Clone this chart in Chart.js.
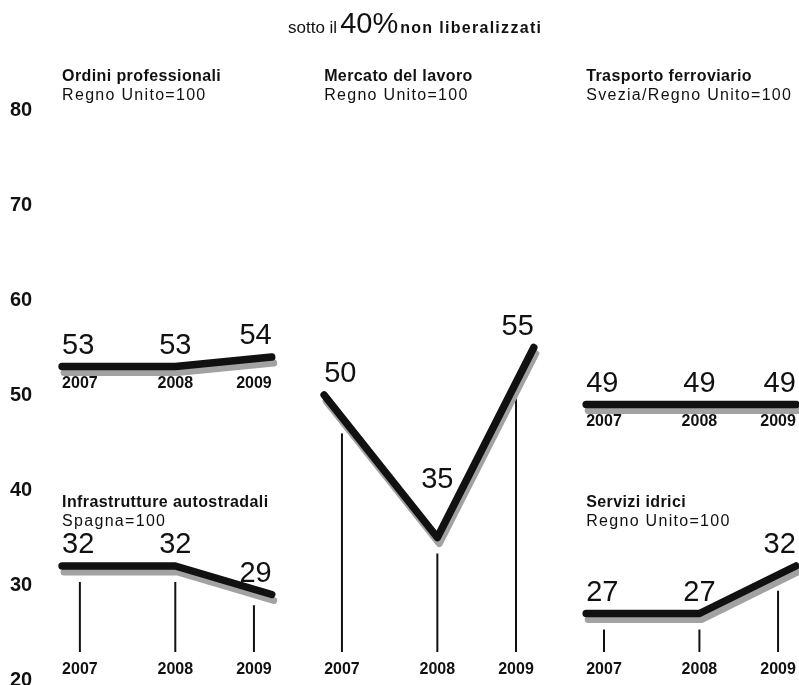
<!DOCTYPE html>
<html lang="it">
<head>
<meta charset="utf-8">
<title>sotto il 40% non liberalizzati</title>
<script src="https://cdn.jsdelivr.net/npm/chart.js@4.4.1/dist/chart.umd.min.js"></script>
<style>
  html, body { margin: 0; padding: 0; background: #fff; }
  #wrap { position: relative; width: 799px; height: 685px; }
</style>
</head>
<body>
<div id="wrap"><canvas id="chart"></canvas></div>
<script>
// Indici di liberalizzazione per settore, 2007-2009
const years = ['2007', '2008', '2009'];
const ordiniProfessionali = [53, 53, 54];
const mercatoLavoro = [50, 35, 55];
const trasportoFerroviario = [49, 49, 49];
const infrastruttureAutostradali = [32, 32, 29];
const serviziIdrici = [27, 27, 32];
const yTicks = [20, 30, 40, 50, 60, 70, 80];

const panels = [
  { title: 'Ordini professionali', base: 'Regno Unito=100', values: ordiniProfessionali, col: 0, row: 'top', drops: false },
  { title: 'Mercato del lavoro', base: 'Regno Unito=100', values: mercatoLavoro, col: 1, row: 'top', drops: true },
  { title: 'Trasporto ferroviario', base: 'Svezia/Regno Unito=100', values: trasportoFerroviario, col: 2, row: 'top', drops: false },
  { title: 'Infrastrutture autostradali', base: 'Spagna=100', values: infrastruttureAutostradali, col: 0, row: 'bottom', drops: true },
  { title: 'Servizi idrici', base: 'Regno Unito=100', values: serviziIdrici, col: 2, row: 'bottom', drops: true }
];

// posizione orizzontale degli anni dentro un riquadro e passo tra le colonne
const YEAR_POS = [0, 1.08, 2];
const COL_STEP = 2.5;
const INK = '#111';
const SHADE = '#a2a2a2';
const FONT = '"Liberation Sans", Arial, sans-serif';

const datasets = [];
panels.forEach((p, k) => {
  const pts = p.values.map((v, i) => ({ x: p.col * COL_STEP + YEAR_POS[i], y: v }));
  const common = { data: pts, panel: k, pointRadius: 0, tension: 0, clip: false,
                   borderCapStyle: 'round', borderJoinStyle: 'round' };
  datasets.push(Object.assign({}, common, { borderColor: INK, borderWidth: 7.5, order: 0 }));
  datasets.push(Object.assign({}, common, { borderColor: SHADE, borderWidth: 7, order: 1, shadow: true }));
});

function text(ctx, str, x, y, font, align, spacing) {
  ctx.font = font;
  ctx.textAlign = align;
  ctx.letterSpacing = (spacing || 0) + 'px';
  ctx.fillText(str, x, y);
}

function linePoints(chart, k) {
  return chart.getDatasetMeta(k * 2).data;
}

// quota della linea spezzata in corrispondenza di x
function lineYAt(pts, x) {
  for (let i = 1; i < pts.length; i++) {
    if (x <= pts[i].x) {
      const a = pts[i - 1], b = pts[i];
      return a.y + (b.y - a.y) * (x - a.x) / (b.x - a.x);
    }
  }
  return pts[pts.length - 1].y;
}

const YEAR_FONT = 'bold 16px ' + FONT;

// ancoraggio delle etichette degli anni: primo a sinistra, ultimo a destra
function yearAnchors(ctx, pts) {
  ctx.font = YEAR_FONT;
  ctx.letterSpacing = '0px';
  const last = pts.length - 1;
  return pts.map((pt, i) => {
    const w = ctx.measureText(years[i]).width;
    if (i === 0) return { x: pt.x, align: 'left', mid: pt.x + w / 2 };
    if (i === last) return { x: pt.x, align: 'right', mid: pt.x - w / 2 };
    return { x: pt.x, align: 'center', mid: pt.x };
  });
}

const panelDecor = {
  id: 'panelDecor',
  beforeDatasetsDraw(chart) {
    const ctx = chart.ctx;
    const bottom = chart.chartArea.bottom;
    ctx.save();
    panels.forEach((p, k) => {
      if (!p.drops) return;
      const pts = linePoints(chart, k);
      yearAnchors(ctx, pts).forEach(a => {
        ctx.strokeStyle = INK;
        ctx.lineWidth = 2;
        ctx.beginPath();
        ctx.moveTo(a.mid, lineYAt(pts, a.mid) + 16);
        ctx.lineTo(a.mid, bottom - 28);
        ctx.stroke();
      });
    });
    ctx.restore();
  },
  beforeDatasetDraw(chart, args) {
    const ds = chart.data.datasets[args.index];
    chart.ctx.save();
    if (ds.shadow) chart.ctx.translate(2, 6);
  },
  afterDatasetDraw(chart) {
    chart.ctx.restore();
  },
  afterDraw(chart) {
    const ctx = chart.ctx;
    const bottom = chart.chartArea.bottom;
    ctx.save();
    ctx.fillStyle = INK;
    ctx.textBaseline = 'alphabetic';

    // titolo
    let x = 288;
    const parts = [
      ['sotto il', '17px ' + FONT, 0],
      ['40%', '29px ' + FONT, 0],
      ['non liberalizzati', 'bold 16px ' + FONT, 1.3]
    ];
    parts.forEach(([s, f, sp], i) => {
      text(ctx, s, x, 33, f, 'left', sp);
      x += ctx.measureText(s).width + (i === 0 ? 3 : 2);
    });

    panels.forEach((p, k) => {
      const pts = linePoints(chart, k);
      const last = pts.length - 1;

      // intestazione del riquadro
      const ty = p.row === 'top' ? 81 : 507;
      text(ctx, p.title, pts[0].x, ty, 'bold 16px ' + FONT, 'left', 0.4);
      text(ctx, p.base, pts[0].x, ty + 19, '16px ' + FONT, 'left', 1.3);

      const lowest = Math.max(...pts.map(pt => pt.y));
      const yearY = p.drops ? bottom - 6 : lowest + 21;
      const anchors = yearAnchors(ctx, pts);

      pts.forEach((pt, i) => {
        const v = p.values[i];
        const a = anchors[i];
        const valley = i > 0 && i < last && v < p.values[i - 1] && v < p.values[i + 1];
        text(ctx, String(v), a.x, pt.y - (valley ? 50 : 13), '29px ' + FONT, a.align, 0);
        text(ctx, years[i], a.x, yearY, YEAR_FONT, a.align, 0);
      });
    });
    ctx.restore();
  }
};

new Chart(document.getElementById('chart'), {
  type: 'line',
  data: { datasets },
  plugins: [panelDecor],
  options: {
    responsive: true,
    maintainAspectRatio: false,
    animation: false,
    events: [],
    layout: { padding: { top: 110, bottom: 5, left: 10, right: 0 } },
    scales: {
      x: { type: 'linear', display: false, min: -0.163, max: 7.03 },
      y: {
        min: 20,
        max: 80,
        afterBuildTicks: scale => { scale.ticks = yTicks.map(v => ({ value: v })); },
        afterFit: scale => {
          scale.width = 35;
          scale.paddingTop = 0;
          scale.paddingBottom = 0;
        },
        grid: { display: false },
        border: { display: false },
        ticks: {
          crossAlign: 'far',
          color: INK,
          font: { family: FONT, size: 20, weight: 'bold' }
        }
      }
    },
    plugins: {
      legend: { display: false },
      tooltip: { enabled: false }
    }
  }
});
</script>
</body>
</html>
